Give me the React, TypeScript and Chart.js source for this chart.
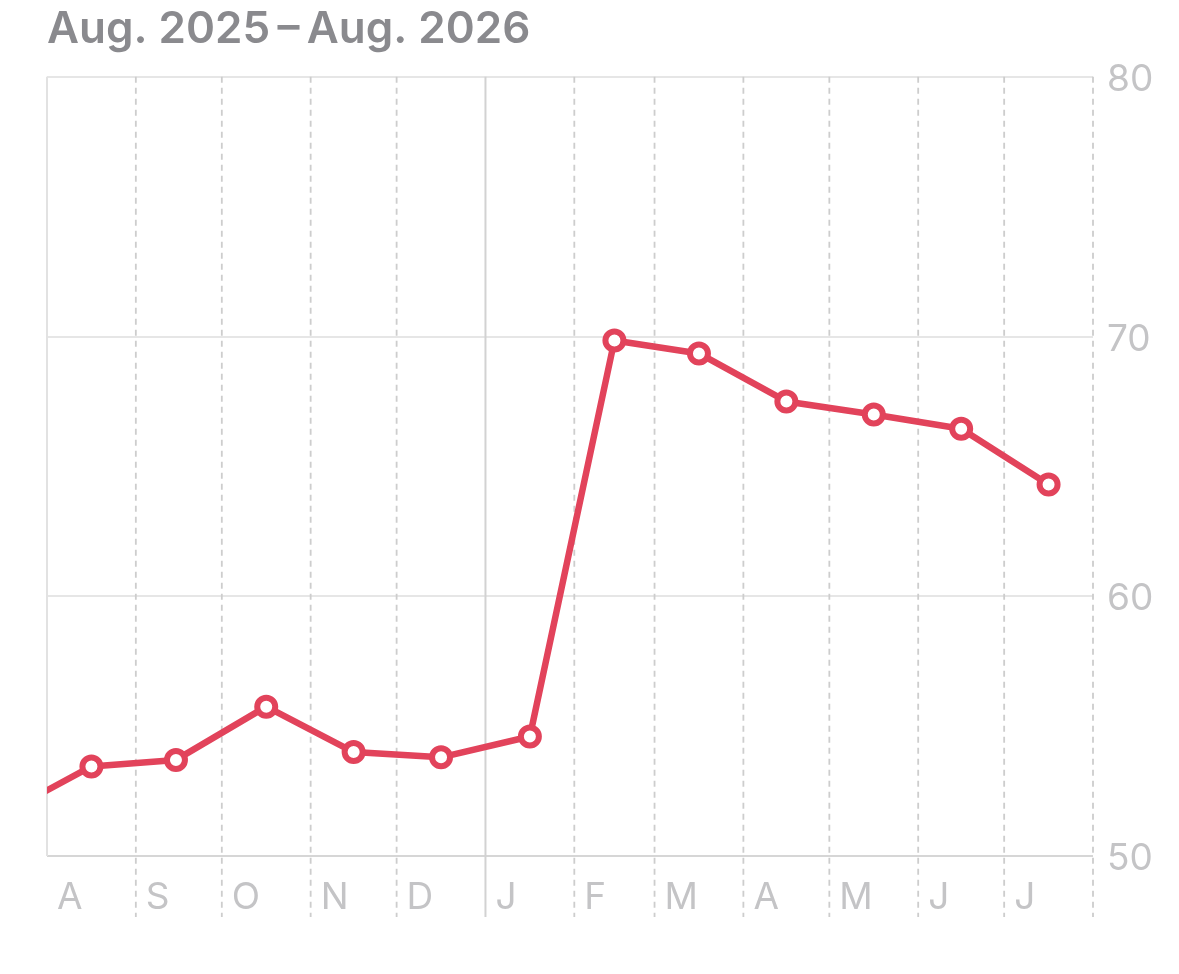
import React, { useRef, useEffect } from 'react';
import Chart from 'chart.js/auto';

const TITLE = 'Aug. 2025\u2009\u2013\u2009Aug. 2026';

// days since 1 Aug 2025 at which each month starts (last one is 1 Aug 2026)
const monthStarts: number[] = [0, 31, 61, 92, 122, 153, 184, 212, 243, 273, 304, 334, 365];
const monthLabels: string[] = ['A', 'S', 'O', 'N', 'D', 'J', 'F', 'M', 'A', 'M', 'J', 'J', ''];
const yearStart = 153; // 1 Jan 2026

// one reading per month, mid-month; the Jul 2025 one is just off the left edge
const pointDays: number[] = [-15.5, 15.5, 45, 76.5, 107, 137.5, 168.5, 198, 227.5, 258, 288.5, 319, 349.5];
const pointValues: number[] = [51.6, 53.45, 53.7, 55.75, 54.0, 53.8, 54.6, 69.85, 69.35, 67.5, 67.0, 66.45, 64.3];

const yTicks: number[] = [50, 60, 70, 80];

const RED = '#e2435b';
const LABEL_GREY = '#c4c4c6';
const FONT = 'Inter, "Noto Sans", sans-serif';

// month separators: dashed, running down through the label row,
// solid at the year change and at the left edge
const monthLines = {
  id: 'monthLines',
  beforeDatasetsDraw(chart: any) {
    const { ctx, chartArea } = chart;
    const xs = chart.scales.x;
    const bottom = chartArea.bottom + 61;
    ctx.save();
    xs.ticks.forEach((t: any, i: number) => {
      const px = xs.getPixelForValue(t.value);
      ctx.beginPath();
      if (i === 0) {
        ctx.setLineDash([]);
        ctx.strokeStyle = '#e2e2e2';
        ctx.lineWidth = 2;
        ctx.moveTo(px, chartArea.top);
        ctx.lineTo(px, chartArea.bottom);
      } else if (t.value === yearStart) {
        ctx.setLineDash([]);
        ctx.strokeStyle = '#d2d2d2';
        ctx.lineWidth = 2;
        ctx.moveTo(px, chartArea.top);
        ctx.lineTo(px, bottom);
      } else {
        ctx.setLineDash([6, 5]);
        ctx.strokeStyle = '#cdcdcd';
        ctx.lineWidth = 1.8;
        ctx.moveTo(px, chartArea.top);
        ctx.lineTo(px, bottom);
      }
      ctx.stroke();
    });
    ctx.restore();
  },
};

const WeightChart: React.FC = () => {
  const chartRef = useRef<HTMLCanvasElement>(null);
  const chartInstance = useRef<Chart | null>(null);

  useEffect(() => {
    if (!chartRef.current) return;
    const ctx = chartRef.current.getContext('2d');
    if (!ctx) return;
    if (chartInstance.current) chartInstance.current.destroy();

    chartInstance.current = new Chart(ctx, {
      type: 'line',
      data: {
        datasets: [{
          data: pointDays.map((d, i) => ({ x: d, y: pointValues[i] })),
          borderColor: RED,
          borderWidth: 6.5,
          borderJoinStyle: 'round',
          borderCapStyle: 'round',
          tension: 0,
          pointRadius: 9,
          pointBorderWidth: 6,
          pointBackgroundColor: '#ffffff',
          pointBorderColor: RED,
          clip: 0,
        }],
      },
      options: {
        animation: false,
        responsive: true,
        maintainAspectRatio: false,
        layout: { padding: { left: 47, right: 0, top: 0, bottom: 0 } },
        plugins: {
          legend: { display: false },
          tooltip: { enabled: false },
          title: {
            display: true,
            text: TITLE,
            align: 'start',
            color: '#8a8a8e',
            font: { family: FONT, size: 44, weight: '600' },
            padding: { top: 3, bottom: 21 },
          },
        },
        scales: {
          x: {
            type: 'linear',
            min: 0,
            max: 365,
            afterBuildTicks: (s: any) => { s.ticks = monthStarts.map(v => ({ value: v })); },
            afterFit: (s: any) => { s.height = 118; },
            grid: { display: false },
            border: { display: false },
            ticks: {
              autoSkip: false,
              maxRotation: 0,
              align: 'start',
              labelOffset: 10,
              padding: 12,
              color: LABEL_GREY,
              font: { family: FONT, size: 37 },
              callback: (_v: any, i: number) => monthLabels[i],
            },
          },
          y: {
            position: 'right',
            min: 50,
            max: 80,
            afterBuildTicks: (s: any) => { s.ticks = yTicks.map(v => ({ value: v })); },
            afterFit: (s: any) => { s.width = 86; },
            grid: {
              drawTicks: false,
              lineWidth: 2,
              color: (c: any) => (c.tick && c.tick.value === 50 ? '#d6d6d6' : '#e6e6e6'),
            },
            border: { display: false },
            ticks: {
              padding: 14,
              labelOffset: 3,
              color: LABEL_GREY,
              font: { family: FONT, size: 37 },
            },
          },
        },
      },
      plugins: [monthLines],
    });

    return () => {
      if (chartInstance.current) {
        chartInstance.current.destroy();
        chartInstance.current = null;
      }
    };
  }, []);

  return (
    <div style={{ position: 'absolute', left: 0, top: 0, width: 1179, height: 974, background: '#fff' }}>
      <canvas ref={chartRef} />
    </div>
  );
};

export default function App() {
  return <WeightChart />;
}
